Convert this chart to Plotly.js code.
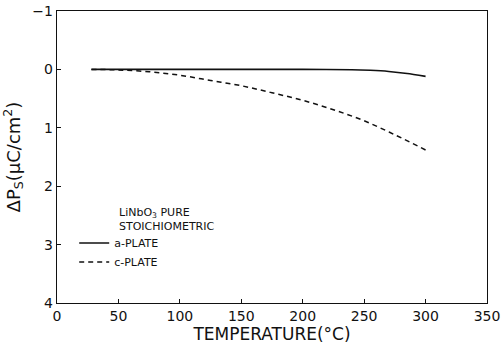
<!DOCTYPE html>
<html>
<head>
<meta charset="utf-8">
<script src="https://cdn.plot.ly/plotly-3.0.1.min.js"></script>
<style>html,body{margin:0;padding:0;background:#fff;}#chart{width:501px;height:345px;}</style>
</head>
<body>
<div id="chart"></div>
<script>
const aPlateT = [28, 50, 100, 150, 200, 240, 255, 270, 285, 300];
const aPlateP = [0, 0, 0, 0, 0, 0.005, 0.015, 0.035, 0.07, 0.12];
const cPlateT = [28, 50, 75, 100, 125, 150, 175, 200, 225, 250, 275, 300];
const cPlateP = [0, 0.01, 0.04, 0.10, 0.19, 0.28, 0.40, 0.53, 0.69, 0.88, 1.12, 1.38];
const xTicks = [0, 50, 100, 150, 200, 250, 300, 350];
const yTicks = [-1, 0, 1, 2, 3, 4];
const seriesNames = ['a-PLATE', 'c-PLATE'];
const legendTitle = 'LiNbO<sub>3</sub> PURE<br>STOICHIOMETRIC';

const FONT = 'DejaVu Sans, sans-serif';

const traces = [
  {x: aPlateT, y: aPlateP, name: seriesNames[0], mode: 'lines', line: {color: '#111', width: 1.6, shape: 'spline', smoothing: 0.6}},
  {x: cPlateT, y: cPlateP, name: seriesNames[1], mode: 'lines', line: {color: '#111', width: 1.5, dash: '5px,4px', shape: 'spline'}}
];

const layout = {
  width: 501, height: 345,
  margin: {l: 57, r: 14, t: 11, b: 42},
  paper_bgcolor: '#fff', plot_bgcolor: '#fff',
  font: {family: FONT, color: '#111', size: 14},
  showlegend: true,
  legend: {x: 0.04, y: 0.255, xanchor: 'left', yanchor: 'top', bgcolor: 'rgba(0,0,0,0)',
           font: {size: 11, family: FONT}, tracegroupgap: 0, itemwidth: 30},
  annotations: [
    {xref: 'paper', yref: 'paper', x: 0.14, y: 0.285, xanchor: 'left', yanchor: 'middle', showarrow: false,
     text: legendTitle, align: 'left', font: {size: 11, family: FONT}}
  ],
  xaxis: {
    range: [0, 350], tickvals: xTicks, ticktext: xTicks.map(String),
    ticks: 'inside', ticklen: 4, tickcolor: '#111', showline: true, linecolor: '#111', linewidth: 1.3,
    mirror: true, showgrid: false, zeroline: false,
    tickfont: {size: 14, family: FONT},
    title: {text: 'TEMPERATURE(°C)', font: {size: 17, family: FONT}, standoff: 4}
  },
  yaxis: {
    range: [4, -1], tickvals: yTicks, ticktext: yTicks.map(v => v < 0 ? '−' + Math.abs(v) : String(v)),
    ticks: 'inside', ticklen: 4, tickcolor: '#111', showline: true, linecolor: '#111', linewidth: 1.3,
    mirror: true, showgrid: false, zeroline: false,
    tickfont: {size: 14, family: FONT},
    title: {text: 'ΔP<sub>S</sub>(μC/cm<sup>2</sup>)', font: {size: 18, family: FONT}, standoff: 8}
  }
};

Plotly.newPlot('chart', traces, layout, {staticPlot: true, displayModeBar: false});
</script>
</body>
</html>
